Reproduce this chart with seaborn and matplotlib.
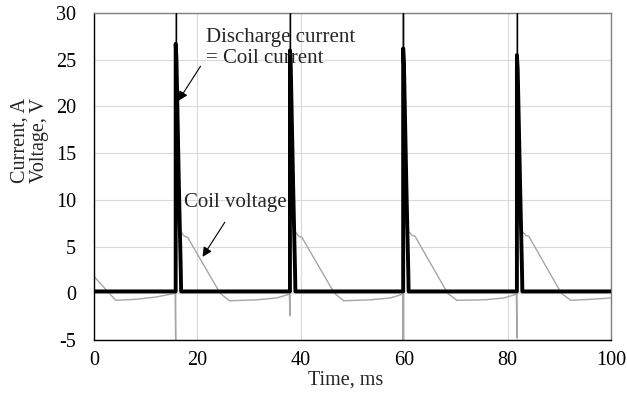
import matplotlib
matplotlib.use("Agg")
import matplotlib.pyplot as plt
import seaborn as sns
import pandas as pd

# ---------------- data ----------------
pulse_t = [15.8, 37.9, 59.8, 81.8]
pulse_peak = [26.7, 26.0, 26.2, 25.5]

cur_t = [0.0, 15.8, 15.8, 15.95, 16.4, 16.8, 16.85,
         37.9, 37.9, 38.05, 38.5, 38.9, 38.95,
         59.8, 59.8, 59.95, 60.4, 60.8, 60.85,
         81.8, 81.8, 81.95, 82.4, 82.8, 82.85, 100.0]
cur_v = [0.2, 0.2, 26.7, 25.0, 12.0, 2.0, 0.2,
         0.2, 26.0, 24.5, 12.0, 2.0, 0.2,
         0.2, 26.2, 24.5, 12.0, 2.0, 0.2,
         0.2, 25.5, 24.0, 12.0, 2.0, 0.2, 0.2]

volt_t = [0.0, 4.2, 8.0, 12.0, 15.7,
          15.8, 15.8, 15.9, 16.9, 17.5, 18.1, 24.4, 26.2, 31.5, 35.3, 37.8,
          37.9, 37.9, 38.0, 39.0, 39.6, 40.2, 46.5, 48.3, 53.5, 57.3, 59.7,
          59.8, 59.8, 59.9, 60.9, 61.5, 62.1, 68.4, 70.2, 75.5, 79.3, 81.7,
          81.8, 81.8, 81.9, 82.9, 83.5, 84.1, 90.4, 92.2, 96.0, 100.0]
volt_v = [1.8, -0.75, -0.65, -0.4, 0.0,
          -6.0, 31.0, 8.0, 6.5, 6.1, 6.0, 0.0, -0.8, -0.7, -0.5, -0.1,
          -2.4, 31.0, 8.0, 6.5, 6.1, 6.0, 0.0, -0.8, -0.7, -0.5, -0.1,
          -6.0, 31.0, 8.0, 6.6, 6.2, 6.1, 0.0, -0.75, -0.7, -0.5, -0.1,
          -4.8, 31.0, 8.0, 6.6, 6.2, 6.1, 0.0, -0.75, -0.65, -0.5]

x_ticks = [0, 20, 40, 60, 80, 100]
y_ticks = [-5, 0, 5, 10, 15, 20, 25, 30]

# ---------------- plot ----------------
sns.set_style("white")
plt.rcParams["font.family"] = ["Liberation Serif", "DejaVu Serif"]
plt.rcParams["axes.unicode_minus"] = False

FS = 14.5

fig = plt.figure(figsize=(6.27, 3.96), dpi=100)
ax = fig.add_axes([94 / 627, 56 / 396, 517 / 627, 327 / 396])

cur_df = pd.DataFrame({"t": cur_t, "v": cur_v})
volt_df = pd.DataFrame({"t": volt_t, "v": volt_v})

ax.set_axisbelow(True)
ax.grid(True, color="#d9d9d9", lw=0.8)

sns.lineplot(data=volt_df, x="t", y="v", sort=False, estimator=None,
             color="#a6a6a6", lw=1.0, ax=ax, zorder=2)
sns.lineplot(data=cur_df, x="t", y="v", sort=False, estimator=None,
             color="black", lw=2.8, ax=ax, zorder=3)
ax.vlines(pulse_t, pulse_peak, [31] * len(pulse_t), colors="black", lw=1.0, zorder=3)

ax.set_xlim(0, 100)
ax.set_ylim(-5, 30)
ax.set_xticks(x_ticks)
ax.set_yticks(y_ticks)
ax.tick_params(direction="in", length=4, width=0.8, labelsize=FS, colors="black")
ax.tick_params(axis="y", pad=13)
ax.tick_params(axis="x", pad=8)

for s in ["left", "bottom"]:
    ax.spines[s].set_color("black")
    ax.spines[s].set_linewidth(1.0)
for s in ["top", "right"]:
    ax.spines[s].set_color("#808080")
    ax.spines[s].set_linewidth(1.0)

ax.set_xlabel("Time, ms", fontsize=FS)
ax.set_ylabel("Current, A\nVoltage, V", fontsize=FS, linespacing=1.0)
ax.xaxis.set_label_coords(0.487, -0.092)
ax.yaxis.set_label_coords(-0.088, 0.61)

arrow = dict(arrowstyle="-|>", color="black", lw=0.8, mutation_scale=14,
             shrinkA=0, shrinkB=0)
ax.annotate("", xy=(16.3, 20.6), xytext=(20.6, 24.3), arrowprops=arrow, zorder=5)
ax.text(21.7, 26.9, "Discharge current", fontsize=FS + 0.5, va="baseline", ha="left")
ax.text(21.7, 24.6, "= Coil current", fontsize=FS + 0.5, va="baseline", ha="left")
ax.annotate("", xy=(21.0, 3.9), xytext=(25.3, 7.6), arrowprops=arrow, zorder=5)
ax.text(17.4, 9.2, "Coil voltage", fontsize=FS + 0.5, va="baseline", ha="left")

fig.savefig("out.png", dpi=100)
